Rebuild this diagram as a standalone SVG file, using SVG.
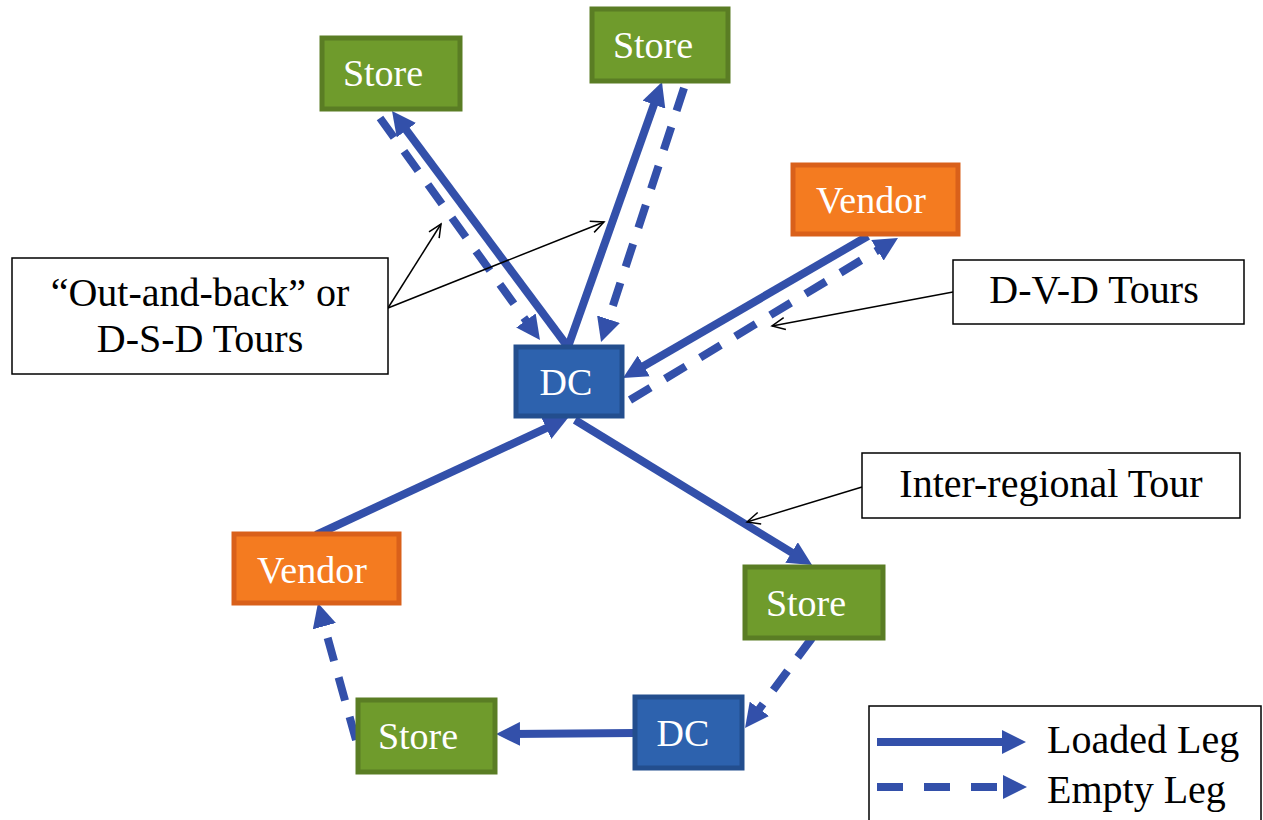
<svg xmlns="http://www.w3.org/2000/svg" width="1263" height="820" viewBox="0 0 1263 820">
<style>
.store rect{fill:#6f9b2c;stroke:#5a7d24;stroke-width:5}
.vendor rect{fill:#f47b20;stroke:#d9601a;stroke-width:5}
.dc rect{fill:#2d62ae;stroke:#234e8e;stroke-width:5}
.node text{fill:#ffffff;font-family:"Liberation Serif","Times New Roman",serif;font-size:38px;text-anchor:middle}
.label rect{fill:#ffffff;stroke:#000000;stroke-width:1.5}
.label text{fill:#000000;font-family:"Liberation Serif","Times New Roman",serif;font-size:40px;text-anchor:middle}
.loaded{stroke:#3350aa;stroke-width:8;fill:none;marker-end:url(#ah)}
.empty{stroke:#3350aa;stroke-width:8;fill:none;stroke-dasharray:24 17;marker-end:url(#ah)}
.note{stroke:#000000;stroke-width:1.5;fill:none;marker-end:url(#oh)}
</style>
<defs>
<marker id="ah" markerUnits="userSpaceOnUse" markerWidth="26" markerHeight="24" refX="10" refY="12" orient="auto">
<path d="M0,0 L24,12 L0,24 z" fill="#3350aa"/>
</marker>
<marker id="oh" markerUnits="userSpaceOnUse" markerWidth="16" markerHeight="16" refX="14" refY="7" orient="auto">
<path d="M1,1 L14,7 L1,13" fill="none" stroke="#000000" stroke-width="1.5"/>
</marker>
</defs>
<rect width="1263" height="820" fill="#ffffff"/>
<g id="connectors">
<line class="loaded" x1="568" y1="347" x2="400.4" y2="122.2"/>
<line class="empty" x1="380" y1="118" x2="531.8" y2="328.6"/>
<line class="loaded" x1="568" y1="347" x2="657.3" y2="95.2"/>
<line class="empty" x1="684" y1="88" x2="605.4" y2="328.7"/>
<line class="loaded" x1="868" y1="236" x2="635.1" y2="371"/>
<line class="empty" x1="630" y1="400" x2="886" y2="245.2"/>
<line class="loaded" x1="316" y1="535" x2="555.3" y2="423.9"/>
<line class="loaded" x1="575" y1="420" x2="800.1" y2="557.7"/>
<line class="empty" x1="812" y1="638" x2="753.4" y2="716.8"/>
<line class="loaded" x1="635" y1="733" x2="510" y2="734"/>
<line class="empty" x1="356" y1="740" x2="321.7" y2="616.5"/>
<line class="note" x1="388" y1="308" x2="441" y2="224"/>
<line class="note" x1="388" y1="308" x2="604" y2="222"/>
<line class="note" x1="953" y1="292" x2="772" y2="326"/>
<line class="note" x1="862" y1="487" x2="747" y2="522"/>
</g>
<g id="store-tl" class="node store"><rect x="322" y="38" width="138" height="71"/><text x="383" y="86">Store</text></g>
<g id="store-tr" class="node store"><rect x="592" y="9" width="136" height="72"/><text x="653" y="58">Store</text></g>
<g id="vendor-r" class="node vendor"><rect x="793" y="165" width="165" height="69"/><text x="871" y="213">Vendor</text></g>
<g id="dc-main" class="node dc"><rect x="516" y="347" width="106" height="69"/><text x="566" y="395">DC</text></g>
<g id="vendor-l" class="node vendor"><rect x="234" y="534" width="165" height="69"/><text x="312" y="583">Vendor</text></g>
<g id="store-br" class="node store"><rect x="745" y="567" width="138" height="71"/><text x="806" y="616">Store</text></g>
<g id="dc-2" class="node dc"><rect x="635" y="697" width="107" height="71"/><text x="683" y="746">DC</text></g>
<g id="store-bl" class="node store"><rect x="358" y="700" width="137" height="72"/><text x="418" y="749">Store</text></g>
<g id="label-dsd" class="label"><rect x="12" y="258" width="376" height="116"/><text x="200" y="306">“Out-and-back” or</text><text x="200" y="352">D-S-D Tours</text></g>
<g id="label-dvd" class="label"><rect x="953" y="260" width="291" height="64"/><text x="1094" y="303">D-V-D Tours</text></g>
<g id="label-inter" class="label"><rect x="862" y="453" width="378" height="65"/><text x="1051" y="497">Inter-regional Tour</text></g>
<g id="legend" class="label">
<rect x="869" y="706" width="392" height="130"/>
<line class="loaded" x1="877" y1="742" x2="1012" y2="742"/>
<line class="empty" x1="877" y1="787" x2="1013" y2="787" style="stroke-dasharray:26 21"/>
<text x="1047" y="753" style="text-anchor:start">Loaded Leg</text>
<text x="1047" y="803" style="text-anchor:start">Empty Leg</text>
</g>
</svg>
